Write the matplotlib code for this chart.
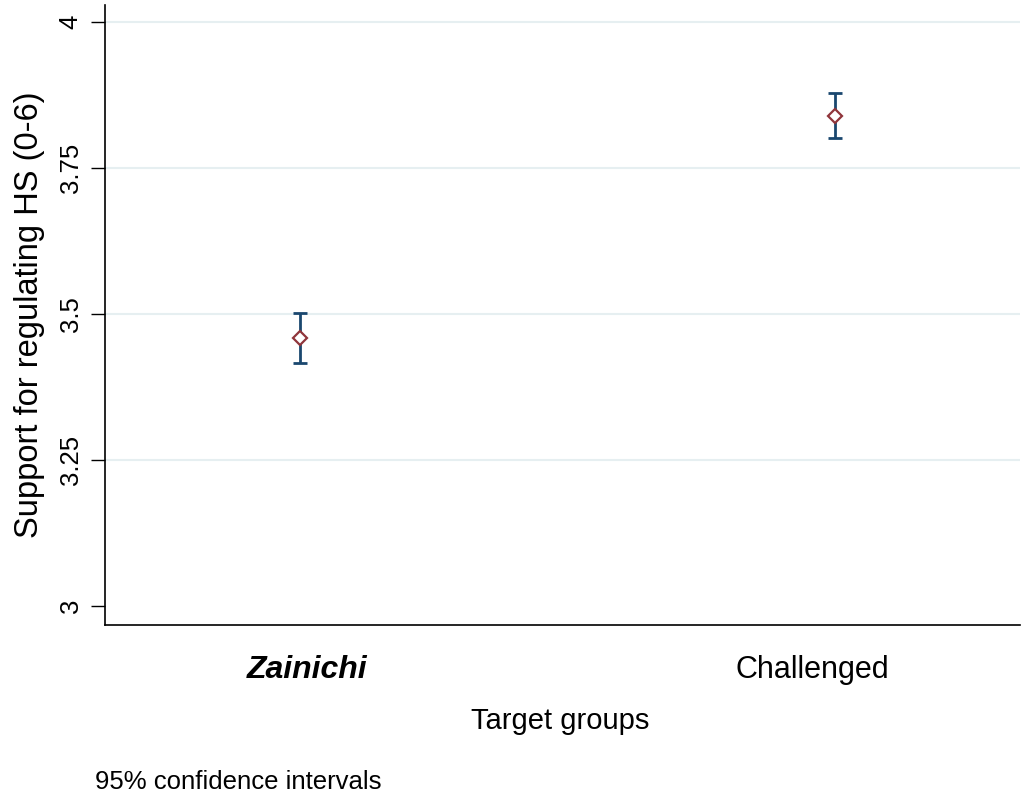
import numpy as np
import matplotlib.pyplot as plt

groups = ['Zainichi', 'Challenged']
means = [3.459, 3.839]
ci_low = [3.416, 3.801]
ci_high = [3.501, 3.878]
yticks = [3, 3.25, 3.5, 3.75, 4]
ytick_labels = ['3', '3.25', '3.5', '3.75', '4']
label_shift = [7, -23]   # category labels sit a bit off the markers
label_size = [23, 22]

plt.rcParams['font.family'] = ['Liberation Sans', 'DejaVu Sans']

fig = plt.figure(figsize=(10.22, 7.98), dpi=100)
ax = fig.add_axes([105/1022, 1 - 625/798, 915/1022, 620/798])

x = np.arange(1, len(groups) + 1)
means = np.array(means)
err = [means - np.array(ci_low), np.array(ci_high) - means]

for yt in yticks[1:]:
    ax.axhline(yt, color='#e6eff1', linewidth=1.5, zorder=0)

ax.errorbar(x, means, yerr=err, fmt='none', ecolor='#1a476f',
            elinewidth=2, capsize=5, capthick=2, zorder=2)
ax.plot(x, means, linestyle='none', marker='D', markersize=7.5,
        markerfacecolor='white', markeredgecolor='#90353b',
        markeredgewidth=1.6, zorder=3)

ax.set_xlim(0.635, 2.345)
ax.set_ylim(3 - 19/584, 4 + 17/584)
ax.set_yticks(yticks)
ax.set_yticklabels(ytick_labels, rotation=90, va='center', fontsize=18.5)
ax.set_xticks(x)
ax.set_xticklabels([])
ax.tick_params(axis='x', length=0)
ax.tick_params(axis='y', length=10, width=1, pad=6)

for i, (g, dx) in enumerate(zip(groups, label_shift)):
    ax.annotate(g, xy=(x[i], 0), xycoords=('data', 'axes fraction'),
                xytext=(dx, -45), textcoords='offset pixels',
                ha='center', va='center', fontsize=label_size[i],
                style='italic' if i == 0 else 'normal',
                weight='bold' if i == 0 else 'normal')

for s in ['top', 'right']:
    ax.spines[s].set_visible(False)
ax.spines['left'].set_linewidth(1.2)
ax.spines['bottom'].set_linewidth(1.2)

ax.set_xlabel('Target groups', fontsize=21, va='center')
ax.xaxis.set_label_coords(0.497, -96/620)
ax.set_ylabel('Support for regulating HS (0-6)', fontsize=23.5, labelpad=10)

fig.text(95/1022, 1 - 782/798, '95% confidence intervals', fontsize=18.5, va='center')

fig.savefig('out.png', dpi=100)
